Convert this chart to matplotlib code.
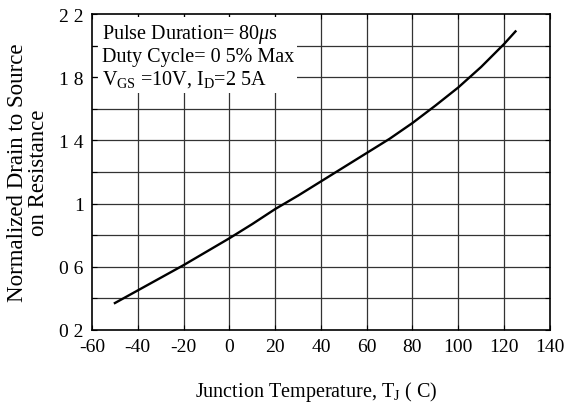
import numpy as np
import matplotlib
matplotlib.use('Agg')
import matplotlib.pyplot as plt

plt.rcParams['font.family'] = ['Liberation Serif', 'DejaVu Serif']
plt.rcParams['mathtext.fontset'] = 'custom'
plt.rcParams['mathtext.rm'] = 'Liberation Serif'
plt.rcParams['mathtext.it'] = 'Liberation Serif:italic'

# curve
temp = [-50, -40, -30, -20, -10, 0, 10, 20, 30, 40, 50, 60, 70, 80, 90, 100, 110, 120, 125]
rds = [0.37, 0.45, 0.53, 0.61, 0.695, 0.78, 0.87, 0.965, 1.05, 1.14, 1.23, 1.32, 1.41, 1.51, 1.62, 1.735, 1.865, 2.01, 2.09]

xticks = list(range(-60, 141, 20))
yticks = [0.2, 0.4, 0.6, 0.8, 1.0, 1.2, 1.4, 1.6, 1.8, 2.0, 2.2]
ylabels = ['0 2', '', '0 6', '', '1', '', '1 4', '', '1 8', '', '2 2']

fig = plt.figure(figsize=(5.68, 4.06), dpi=100)
ax = fig.add_axes([0.162, 0.185, 0.806, 0.778])

for x in xticks[1:-1]:
    ax.axvline(x, color='#333333', lw=0.9, zorder=1)
for y in yticks[1:-1]:
    ax.axhline(y, color='#333333', lw=0.9, zorder=1)

ax.plot(temp, rds, color='black', lw=1.7, zorder=4)

ax.set_xlim(-60, 140)
ax.set_ylim(0.2, 2.2)
ax.set_xticks(xticks)
ax.set_xticklabels([str(t) for t in xticks])
ax.set_yticks(yticks)
ax.set_yticklabels(ylabels)
ax.tick_params(direction='in', length=3.5, labelsize=14, width=0.8,
               top=True, right=True, pad=6)
for s in ax.spines.values():
    s.set_linewidth(1.2)

ax.text(0.021, 0.975,
        'Pulse Duration= 80$\\mu$s\nDuty Cycle= 0 5% Max\n'
        'V$_{\\rm GS}$ =10V, I$_{\\rm D}$=2 5A',
        transform=ax.transAxes, va='top', ha='left', fontsize=14.5,
        linespacing=1.15, zorder=2,
        bbox=dict(facecolor='white', edgecolor='none', pad=2.5))

ax.set_xlabel('Junction Temperature, T$_{\\rm J}$ ( C)', fontsize=14.5)
ax.xaxis.set_label_coords(0.489, -0.155)
ax.set_ylabel('Normalized Drain to Source\non Resistance', fontsize=16.5,
              linespacing=1.0)
ax.yaxis.set_label_coords(-0.095, 0.5)

fig.savefig('out.png', dpi=100)
